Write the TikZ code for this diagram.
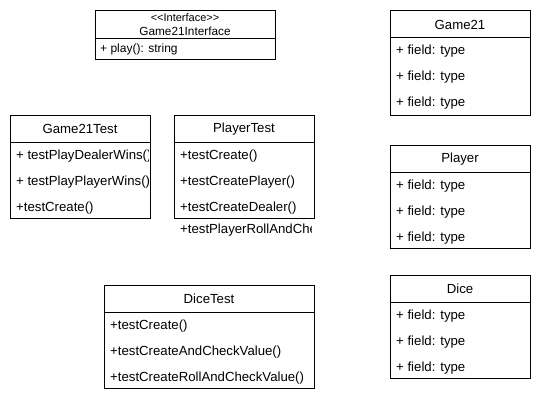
\documentclass[tikz,border=0pt]{standalone}
\usepackage{fontspec}
\setmainfont{Liberation Sans}[Ligatures=NoCommon]
\begin{document}
\begin{tikzpicture}[x=1pt,y=-1pt,
  cls/.style={draw=black, line width=1pt, rectangle, anchor=north west, inner sep=0pt, fill=white},
  ttl/.style={inner sep=0pt, font=\fontsize{13.2}{14}\selectfont},
  row/.style={inner sep=0pt, anchor=west, font=\fontsize{13.2}{14}\selectfont},
  irow/.style={inner sep=0pt, font=\fontsize{12}{13}\selectfont},
  sep/.style={draw=black, line width=1pt}]
\useasboundingbox[fill=white] (0,0) rectangle (541,402);

% Interface
\node[cls, minimum width=180pt, minimum height=49pt] (ifc) at (95,10) {};
\node[irow, font=\fontsize{11}{12}\selectfont] (ifcst) at (185,17.5) {{<}{<}Interface{>}{>}};
\node[irow, font=\fontsize{11.8}{13}\selectfont] (ifcname) at (185,31) {Game21Interface};
\draw[sep] (95,38) -- (275,38);
\node[irow, anchor=west] (ifcr1) at (100,49) {+ play(): string};

% Game21
\node[cls, minimum width=140pt, minimum height=105pt] (g21) at (390,10) {};
\node[ttl] (g21t) at (460,24.5) {Game21};
\draw[sep] (390,37) -- (530,37);
\node[row] (g21r1) at (396,51) {+ field: type};
\node[row] (g21r2) at (396,77) {+ field: type};
\node[row] (g21r3) at (396,103) {+ field: type};

% Player
\node[cls, minimum width=140pt, minimum height=103pt] (pl) at (390,145) {};
\node[ttl] (plt) at (460,159) {Player};
\draw[sep] (390,172) -- (530,172);
\node[row] (plr1) at (396,186) {+ field: type};
\node[row] (plr2) at (396,212) {+ field: type};
\node[row] (plr3) at (396,238) {+ field: type};

% Dice
\node[cls, minimum width=140pt, minimum height=103pt] (dc) at (390,275) {};
\node[ttl] (dct) at (460,289) {Dice};
\draw[sep] (390,302) -- (530,302);
\node[row] (dcr1) at (396,316) {+ field: type};
\node[row] (dcr2) at (396,342) {+ field: type};
\node[row] (dcr3) at (396,368) {+ field: type};

% Game21Test
\node[cls, minimum width=140pt, minimum height=103pt] (gt) at (10,115) {};
\node[ttl] (gtt) at (80,129) {Game21Test};
\draw[sep] (10,142) -- (150,142);
\begin{scope}
\clip (10,142) rectangle (148.6,218);
\node[row] (gtr1) at (16,156) {+ testPlayDealerWins()};
\node[row] (gtr2) at (16,182) {+ testPlayPlayerWins()};
\node[row] (gtr3) at (16,208) {+testCreate()};
\end{scope}

% PlayerTest
\node[cls, minimum width=140pt, minimum height=103pt] (pt) at (174,115) {};
\node[ttl] (ptt) at (244,129) {PlayerTest};
\draw[sep] (174,142) -- (314,142);
\node[row] (ptr1) at (180,156) {+testCreate()};
\node[row] (ptr2) at (180,182) {+testCreatePlayer()};
\node[row] (ptr3) at (180,208) {+testCreateDealer()};
\begin{scope}
\clip (174,219) rectangle (311,242);
\node[row] (ptr4) at (180,230) {+testPlayerRollAndCheck()};
\end{scope}

% DiceTest
\node[cls, minimum width=210pt, minimum height=103pt] (dt) at (104,285) {};
\node[ttl] (dtt) at (209,299) {DiceTest};
\draw[sep] (104,312) -- (314,312);
\node[row] (dtr1) at (110,326) {+testCreate()};
\node[row] (dtr2) at (110,352) {+testCreateAndCheckValue()};
\node[row] (dtr3) at (110,378) {+testCreateRollAndCheckValue()};
\end{tikzpicture}
\end{document}
